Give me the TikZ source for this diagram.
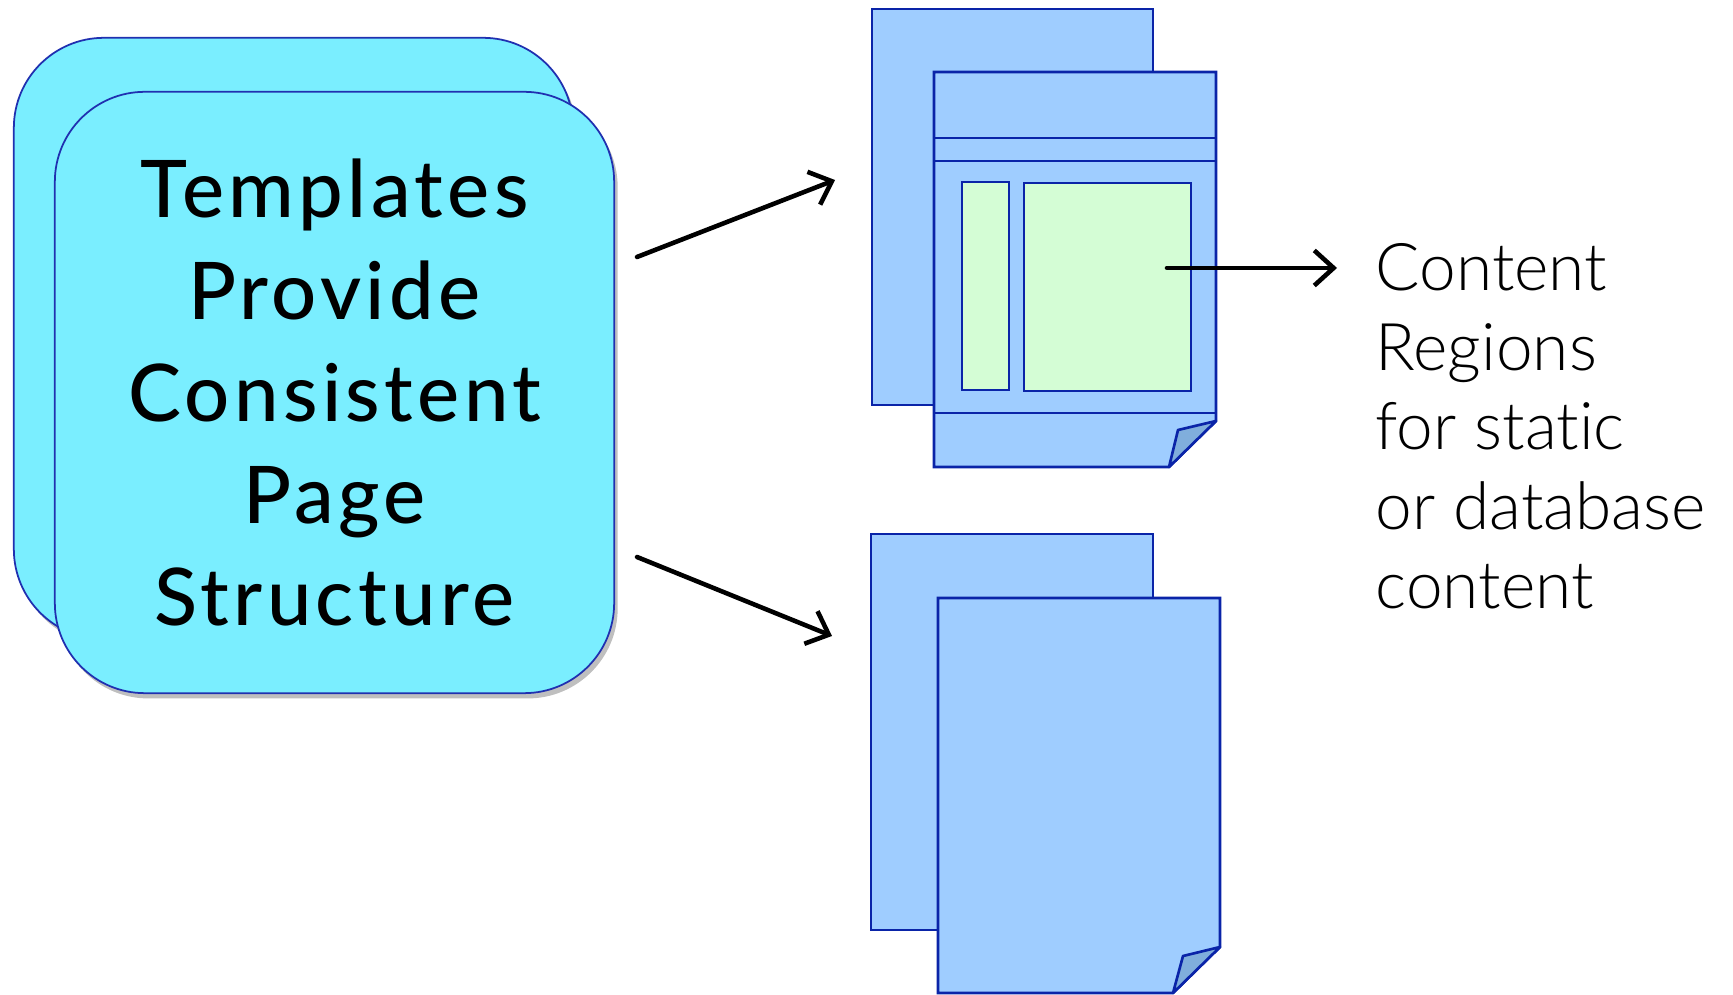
\documentclass[tikz,border=0pt]{standalone}
\usepackage{fontspec}
\setmainfont{Lato}
\newfontfamily\boxfont{Lato Medium}[LetterSpace=5.5]
\newfontfamily\notefont{Lato Light}[Ligatures=NoCommon]
\usetikzlibrary{arrows.meta,shadows}
\definecolor{boxcyan}{HTML}{7AEEFF}
\definecolor{boxline}{HTML}{2030B0}
\definecolor{pageblue}{HTML}{9FCDFF}
\definecolor{pageline}{HTML}{0A24A8}
\definecolor{regiongreen}{HTML}{D4FDD5}
\definecolor{foldblue}{HTML}{80AEDC}
\tikzset{
  tplbox/.style={draw=boxline, line width=0.5pt, fill=boxcyan, rounded corners=9mm,
    minimum width=5.59cm, minimum height=6.01cm, align=center,
    drop shadow={shadow xshift=1pt, shadow yshift=-1.5pt, fill=black, opacity=.25}},
  sheet/.style={draw=pageline, fill=pageblue, line width=0.75pt},
  rule/.style={draw=pageline, line width=0.75pt},
  region/.style={draw=pageline, fill=regiongreen, line width=0.75pt},
  fold/.style={draw=pageline, fill=foldblue, line width=0.75pt, line join=round},
  flow/.style={line width=1.3pt, line cap=round, -{Straight Barb[length=5.5pt,width=10pt]}},
  note/.style={font=\notefont\fontsize{18.7}{22.6}\selectfont, align=left, inner sep=0pt}
}
\begin{document}
\begin{tikzpicture}[x=0.01cm,y=-0.01cm]
	\useasboundingbox (0,0) rectangle (1733,995);
	% template boxes
	\node[tplbox] (tplback) at (293.5,338.5) {};
	\node[tplbox,font=\boxfont\fontsize{22.6}{29}\selectfont] (tpl) at (334.5,392.5) {Templates\\Provide\\Consistent\\Page\\Structure};
	% upper pages
	\draw[sheet] (872,9) rectangle (1153,405);
	\draw[sheet] (934,72) -- (1216,72) -- (1216,421) -- (1169,467) -- (934,467) -- cycle;
	\draw[rule] (934,138) -- (1216,138) (934,161) -- (1216,161) (934,413) -- (1216,413);
	\draw[region] (962,182) rectangle (1009,390);
	\draw[region] (1024,183) rectangle (1191,391);
	\draw[fold] (1216,421) -- (1178,430) -- (1169,467) -- cycle;
	% lower pages
	\draw[sheet] (871,534) rectangle (1153,930);
	\draw[sheet] (938,598) -- (1220,598) -- (1220,947) -- (1173,993) -- (938,993) -- cycle;
	\draw[fold] (1220,947) -- (1183,956) -- (1173,993) -- cycle;
	% label
	\node[note,anchor=north west] (note) at (1375,243) {Content\\Regions\\for static\\or database\\content};
	% arrows
	\coordinate (upfrom) at (637,257);
	\coordinate (upto) at (835,180);
	\coordinate (downfrom) at (637,557);
	\coordinate (downto) at (832,636);
	\coordinate (regfrom) at (1167,268);
	\coordinate (regto) at (1337,268);
	\draw[flow] (upfrom) -- (upto);
	\draw[flow] (downfrom) -- (downto);
	\draw[flow] (regfrom) -- (regto);
\end{tikzpicture}
\end{document}
